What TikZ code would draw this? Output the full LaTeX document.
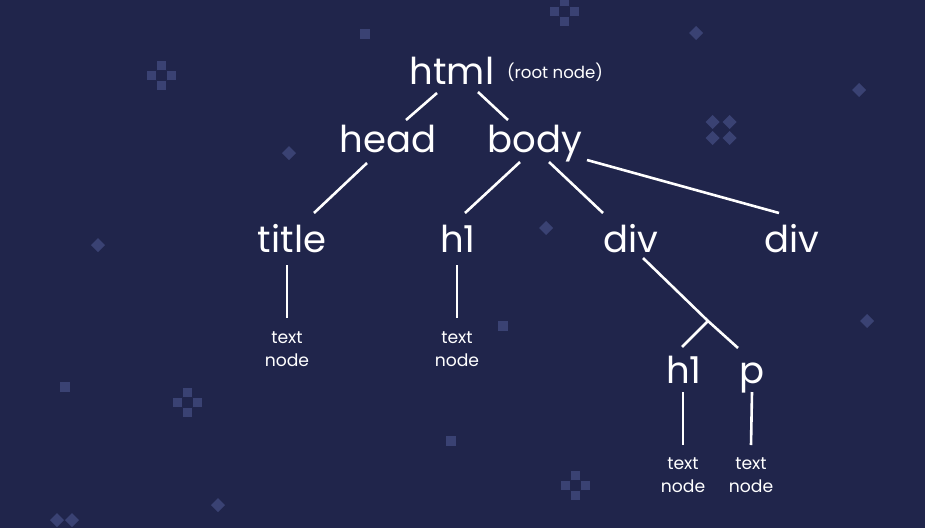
\documentclass[tikz,border=0pt]{standalone}
\usepackage{fontspec}
\setmainfont{Poppins}
\usetikzlibrary{calc}

\definecolor{navy}{HTML}{20254B}
\definecolor{pixel}{HTML}{3A4273}

% small background ornaments
\newcommand{\pixcross}[2]{%
  \foreach \dx/\dy in {-10/0,10/0,0/-10,0/10}
    {\fill[pixel] ({#1+\dx-4.5},{#2+\dy-4.5}) rectangle ++(9,9);}}
\newcommand{\pixdiamond}[3]{%
  \fill[pixel] (#1,#2-#3) -- (#1+#3,#2) -- (#1,#2+#3) -- (#1-#3,#2) -- cycle;}
\newcommand{\pixsquare}[2]{%
  \fill[pixel] (#1-5,#2-5) rectangle ++(10,10);}

\begin{document}
\begin{tikzpicture}[
  x=1pt, y=-1pt,
  tag/.style={text=white, inner sep=0pt, anchor=base, font=\fontsize{37}{40}\selectfont},
  note/.style={text=white, inner sep=0pt, anchor=base, font=\fontsize{16.6}{20}\selectfont},
  leaf/.style={text=white, inner sep=0pt, align=center, font=\fontsize{17.2}{23}\selectfont},
  edge/.style={draw=white, line width=2.6pt}
]

% background
\fill[navy] (0,0) rectangle (925,528);
\useasboundingbox (0,0) rectangle (925,528);

\pixcross{161.5}{75.5}
\pixcross{564.5}{11.5}
\pixcross{187}{402}
\pixcross{575}{485}
\foreach \dx/\dy in {-8.5/-8,8.5/-8,-8.5/8,8.5/8}
  {\pixdiamond{721+\dx}{130+\dy}{7}}
\foreach \dx/\dy in {-7.5/-8,7.5/-8}
  {\pixdiamond{64.5+\dx}{528+\dy}{7}}
\pixdiamond{289}{153}{7}
\pixdiamond{98}{245}{7}
\pixdiamond{546}{228}{7}
\pixdiamond{696}{33}{7}
\pixdiamond{859}{90}{7}
\pixdiamond{867}{321}{7}
\pixdiamond{218}{505}{7}
\pixsquare{364.5}{33.5}
\pixsquare{503}{326}
\pixsquare{65}{387}
\pixsquare{451}{441}

% element nodes
\node[tag] (html) at (452,84) {html};
\node[note, anchor=base west] (root) at (507,78) {(root node)};
\node[tag] (head) at (388,152) {head};
\node[tag] (body) at (535,152) {body};
\node[tag] (title) at (292,252) {title};
\node[tag] (h1a) at (458,252) {h1};
\node[tag] (div1) at (631,252) {div};
\node[tag] (div2) at (792,252) {div};
\node[tag] (h1b) at (684,383) {h1};
\node[tag] (p) at (752,383) {p};

% text nodes
\node[leaf] (txt1) at (287,349) {text\\node};
\node[leaf] (txt2) at (457,349) {text\\node};
\node[leaf] (txt3) at (683,475) {text\\node};
\node[leaf] (txt4) at (751,475) {text\\node};

\coordinate (fork) at (708,321);

% branches
\draw[edge] ([shift={(-15,9)}]html.base) -- ([shift={(18,-32)}]head.base);
\draw[edge] ([shift={(26,8)}]html.base) -- ([shift={(-27,-32)}]body.base);
\draw[edge] ([shift={(-21,11)}]head.base) -- ([shift={(22,-39)}]title.base);
\draw[edge] ([shift={(-15,10)}]body.base) -- ([shift={(7,-39)}]h1a.base);
\draw[edge] ([shift={(14,10)}]body.base) -- ([shift={(-28,-39)}]div1.base);
\draw[edge] ([shift={(52,8)}]body.base) -- ([shift={(-13,-39)}]div2.base);
\draw[edge] ([shift={(12,6)}]div1.base) -- (fork) -- ([shift={(-14,-35)}]p.base);
\draw[edge] (fork) -- ([shift={(-2,-36)}]h1b.base);

% leaves
\draw[edge] ([shift={(-5,13)}]title.base) -- ([shift={(0,-31)}]txt1.center);
\draw[edge] ([shift={(-1,13)}]h1a.base) -- ([shift={(0,-31)}]txt2.center);
\draw[edge] ([shift={(-1,9)}]h1b.base) -- ([shift={(0,-30)}]txt3.center);
\draw[edge] ([shift={(0,9)}]p.base) -- ([shift={(0,-30)}]txt4.center);

\end{tikzpicture}
\end{document}
